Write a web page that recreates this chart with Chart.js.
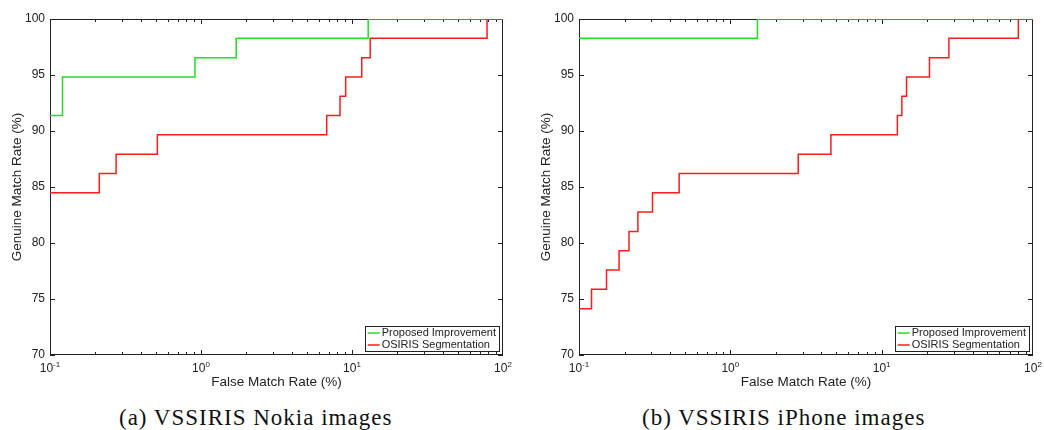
<!DOCTYPE html>
<html>
<head>
<meta charset="utf-8">
<script src="https://cdn.jsdelivr.net/npm/chart.js@4.4.1/dist/chart.umd.min.js"></script>
<style>
  body { margin: 0; background: #fff; }
  #wrap { position: relative; width: 1044px; height: 430px; }
  canvas { position: absolute; top: 0; }
  .caption { position: absolute; top: 405px; font-family: "Liberation Serif", serif; font-size: 23px; letter-spacing: 1px; color: #111; white-space: nowrap; }
</style>
</head>
<body>
<div id="wrap">
  <canvas id="cvA" width="522" height="392" style="left:0px"></canvas>
  <canvas id="cvB" width="522" height="392" style="left:522px"></canvas>
  <div class="caption" style="left:119px">(a) VSSIRIS Nokia images</div>
  <div class="caption" style="left:642px">(b) VSSIRIS iPhone images</div>
</div>
<script>
// Nokia set
const nokiaProposedX = [0.1, 0.121, 0.912, 1.71, 12.8, 100]
const nokiaProposedY = [91.38, 94.83, 96.55, 98.28, 100, 100]
const nokiaOsirisX = [0.1, 0.212, 0.274, 0.514, 6.8, 8.33, 9.08, 11.6, 13.2, 78.4, 100]
const nokiaOsirisY = [84.48, 86.21, 87.93, 89.66, 91.38, 93.10, 94.83, 96.55, 98.28, 100, 100]

// iPhone set
const iphoneProposedX = [0.1, 1.51, 100]
const iphoneProposedY = [98.28, 100, 100]
const iphoneOsirisX = [0.1, 0.121, 0.152, 0.184, 0.214, 0.245, 0.306, 0.459, 2.81, 4.62, 12.7, 13.6, 14.6, 20.7, 27.8, 80, 100]
const iphoneOsirisY = [74.14, 75.86, 77.59, 79.31, 81.03, 82.76, 84.48, 86.21, 87.93, 89.66, 91.38, 93.10, 94.83, 96.55, 98.28, 100, 100]

const seriesLabels = ['Proposed Improvement', 'OSIRIS Segmentation']
const xTickValues = [0.1, 1, 10, 100]
const xTickExps = ['-1', '0', '1', '2']
const yTickValues = [70, 75, 80, 85, 90, 95, 100]
const xTitle = 'False Match Rate (%)'
const yTitle = 'Genuine Match Rate (%)'

const GREEN = '#22e022'
const RED = '#ff1c1c'
const SANS = '"Liberation Sans", Arial, sans-serif'

function toPoints(xs, ys) {
  return xs.map((x, i) => ({x: x, y: ys[i]}))
}

/**
 * Matlab style box, inward ticks, labels, titles and legend
 */
const matlabAxes = {
  id: 'matlabAxes',
  beforeDatasetsDraw(chart) {
    const {ctx, chartArea: a, scales: {x, y}} = chart
    ctx.save()
    ctx.strokeStyle = '#222'
    ctx.lineWidth = 1
    ctx.strokeRect(a.left + 0.5, a.top + 0.5, a.right - a.left - 1, a.bottom - a.top - 1)

    ctx.beginPath()
    for (let d = -1; d < 2; d++) {
      for (let m = 1; m < 10; m++) {
        const px = Math.round(x.getPixelForValue(m * Math.pow(10, d))) + 0.5
        const len = m == 1 ? 5 : 3
        ctx.moveTo(px, a.bottom); ctx.lineTo(px, a.bottom - len)
        ctx.moveTo(px, a.top); ctx.lineTo(px, a.top + len)
      }
    }
    yTickValues.forEach(v => {
      const py = Math.round(y.getPixelForValue(v)) + 0.5
      ctx.moveTo(a.left, py); ctx.lineTo(a.left + 5, py)
      ctx.moveTo(a.right, py); ctx.lineTo(a.right - 5, py)
    })
    ctx.stroke()

    // tick labels
    ctx.fillStyle = '#222'
    ctx.font = '12px ' + SANS
    ctx.textAlign = 'right'
    ctx.textBaseline = 'middle'
    yTickValues.forEach(v => ctx.fillText(String(v), a.left - 5, y.getPixelForValue(v)))

    ctx.textAlign = 'left'
    ctx.textBaseline = 'alphabetic'
    xTickValues.forEach((v, i) => {
      ctx.font = '12px ' + SANS
      const wb = ctx.measureText('10').width
      ctx.font = '8px ' + SANS
      const we = ctx.measureText(xTickExps[i]).width
      const left = x.getPixelForValue(v) - (wb + we) / 2
      ctx.font = '12px ' + SANS
      ctx.fillText('10', left, a.bottom + 17)
      ctx.font = '8px ' + SANS
      ctx.fillText(xTickExps[i], left + wb, a.bottom + 12)
    })

    // axis titles
    ctx.font = '13.5px ' + SANS
    ctx.textAlign = 'center'
    ctx.textBaseline = 'middle'
    ctx.fillText(xTitle, (a.left + a.right) / 2, a.bottom + 27)
    ctx.translate(a.left - 33, (a.top + a.bottom) / 2)
    ctx.rotate(-Math.PI / 2)
    ctx.fillText(yTitle, 0, 0)
    ctx.restore()
  },
  afterDatasetsDraw(chart) {
    const {ctx, chartArea: a} = chart
    const ds = chart.data.datasets
    ctx.save()
    ctx.font = '11px ' + SANS
    const tw = Math.max(...ds.map(d => ctx.measureText(d.label).width))
    const w = 3 + 12 + 2 + tw + 3
    const h = 25
    const bx = a.right - 4 - w
    const by = a.bottom - 4 - h
    ctx.fillStyle = '#fff'
    ctx.fillRect(bx, by, w, h)
    ctx.strokeStyle = '#222'
    ctx.lineWidth = 1
    ctx.strokeRect(Math.round(bx) + 0.5, by + 0.5, Math.round(w), h)
    ds.forEach((d, i) => {
      const ry = by + 7 + i * 12
      ctx.strokeStyle = d.borderColor
      ctx.lineWidth = 1.5
      ctx.beginPath()
      ctx.moveTo(bx + 3, ry); ctx.lineTo(bx + 15, ry)
      ctx.stroke()
      ctx.fillStyle = '#222'
      ctx.textAlign = 'left'
      ctx.textBaseline = 'middle'
      ctx.fillText(d.label, bx + 17, ry)
    })
    ctx.restore()
  }
}

function makeChart(id, proposed, osiris, padLeft, padRight) {
  return new Chart(document.getElementById(id).getContext('2d'), {
    type: 'line',
    data: {
      datasets: [{
        label: seriesLabels[0],
        data: proposed,
        borderColor: GREEN,
        order: 1
      }, {
        label: seriesLabels[1],
        data: osiris,
        borderColor: RED,
        order: 0
      }]
    },
    options: {
      responsive: false,
      animation: false,
      devicePixelRatio: 1,
      layout: {padding: {left: padLeft, right: padRight, top: 19, bottom: 37}},
      elements: {
        line: {borderWidth: 1.5, stepped: true, tension: 0, fill: false},
        point: {radius: 0}
      },
      plugins: {legend: {display: false}, tooltip: {enabled: false}},
      scales: {
        x: {
          type: 'logarithmic', min: 0.1, max: 100,
          grid: {display: false}, border: {display: false}, ticks: {display: false},
          afterFit: s => { s.height = 0 }
        },
        y: {
          type: 'linear', min: 70, max: 100,
          grid: {display: false}, border: {display: false}, ticks: {display: false},
          afterFit: s => { s.width = 0 }
        }
      }
    },
    plugins: [matlabAxes]
  })
}

makeChart('cvA', toPoints(nokiaProposedX, nokiaProposedY), toPoints(nokiaOsirisX, nokiaOsirisY), 50, 19)
makeChart('cvB', toPoints(iphoneProposedX, iphoneProposedY), toPoints(iphoneOsirisX, iphoneOsirisY), 57, 11)
</script>
</body>
</html>
